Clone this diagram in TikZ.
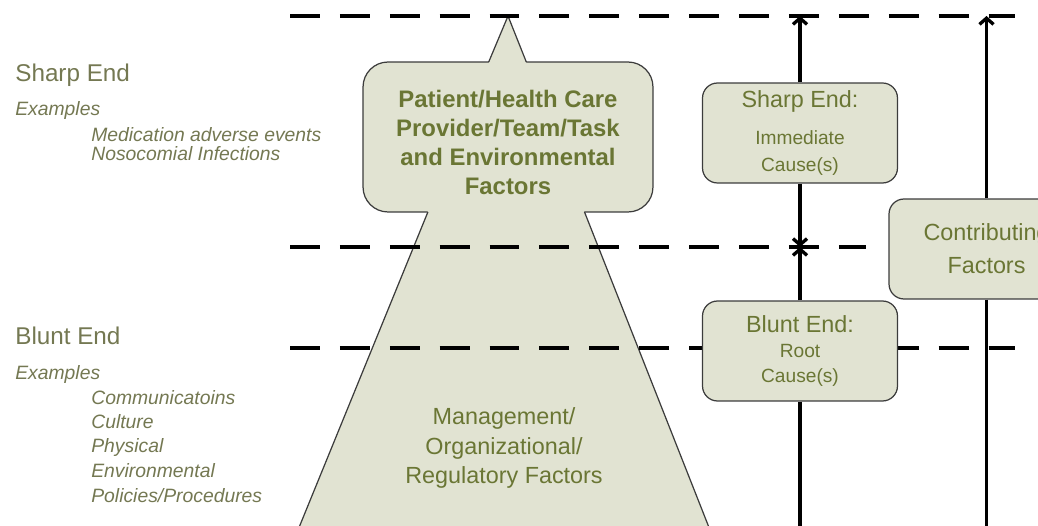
\documentclass[tikz,border=0pt]{standalone}
\usepackage{fontspec}
\setmainfont{Liberation Sans}
\usetikzlibrary{arrows.meta}
\usetikzlibrary{positioning}
\definecolor{factorfill}{RGB}{225,227,210}
\definecolor{olivetext}{RGB}{106,118,52}
\definecolor{greytext}{RGB}{116,120,82}
\definecolor{edgegrey}{RGB}{60,60,60}
\tikzset{level/.style = {dash pattern=on 17pt off 11.4pt, line width=2.2pt}}
\tikzset{cause/.style = {draw=edgegrey, line width=0.7pt, fill=factorfill,
                         rounded corners=0.3cm, minimum width=3.9cm,
                         minimum height=2cm, align=center, text=olivetext}}
\tikzset{flow/.style = {line width=1.9pt, -{Straight Barb[length=3.5pt,width=8pt]}}}
\tikzset{side/.style = {anchor=base west, text=greytext, inner sep=0}}
\tikzset{edge/.style = {draw=edgegrey, line width=0.7pt}}

\begin{document}
\begin{tikzpicture}[x=0.02cm, y=-0.02cm]
      \clip (0, 0) rectangle (1038, 526);
      % callout box with the pyramid round it
      \node [edge, fill=factorfill, rounded corners=0.5cm, minimum width=5.8cm,
             minimum height=3cm] (care) at (508, 137) {};
      \fill [factorfill] (508, 16) -- (488.3, 64) -- (526.7, 64) -- cycle;
      \fill [factorfill] (428.3, 210) -- (298, 530) -- (710, 530) -- (583.7, 210) -- cycle;
      \draw [edge] (488.7, 62) -- (508, 16) -- (526.3, 62);
      \draw [edge] (427.9, 212) -- (298, 530);
      \draw [edge] (584.5, 212) -- (710, 530);
      \node [text=olivetext, align=center, font=\fontsize{13.6}{16.5}\selectfont\bfseries] (caretext) at (508, 142)
            {Patient/Health Care\\Provider/Team/Task\\and Environmental\\Factors};
      \node [text=olivetext, align=center, font=\fontsize{13.3}{17}\selectfont] (mgmt) at (504, 448)
            {Management/\\Organizational/\\Regulatory Factors};
      % level lines
      \draw [level] (290, 16) -- (1015, 16);
      \draw [level] (290, 247) -- (866, 247);
      \draw [level] (290, 348) -- (1015, 348);
      % side labels
      \node [side, font=\fontsize{13.8}{16}\selectfont] (sharplabel) at (15, 82) {Sharp End};
      \node [side, font=\fontsize{11}{13}\selectfont\itshape] (sharpex) at (15, 116) {Examples};
      \node [side, font=\fontsize{11}{13}\selectfont\itshape] (sharpa) at (91, 142) {Medication adverse events};
      \node [side, font=\fontsize{11}{13}\selectfont\itshape] (sharpb) at (91, 161) {Nosocomial Infections};
      \node [side, font=\fontsize{13.8}{16}\selectfont] (bluntlabel) at (15, 345) {Blunt End};
      \node [side, font=\fontsize{11}{13}\selectfont\itshape] (bluntex) at (15, 380) {Examples};
      \node [side, font=\fontsize{11}{13}\selectfont\itshape] (blunta) at (91, 405) {Communicatoins};
      \node [side, font=\fontsize{11}{13}\selectfont\itshape] (bluntb) at (91, 429) {Culture};
      \node [side, font=\fontsize{11}{13}\selectfont\itshape] (bluntc) at (91, 453) {Physical};
      \node [side, font=\fontsize{11}{13}\selectfont\itshape] (bluntd) at (91, 478) {Environmental};
      \node [side, font=\fontsize{11}{13}\selectfont\itshape] (blunte) at (91, 503) {Policies/Procedures};
      % cause boxes
      \node [cause, font=\fontsize{10.9}{15.4}\selectfont] (sharp) at (800, 133)
            {{\fontsize{13.3}{15.4}\selectfont Sharp End:}\\[6pt]Immediate\\Cause(s)};
      \node [cause, font=\fontsize{10.9}{14.2}\selectfont] (blunt) at (800, 351)
            {{\fontsize{13.3}{14.2}\selectfont Blunt End:}\\Root\\Cause(s)};
      \node [cause, font=\fontsize{13.3}{18.8}\selectfont] (contrib) at (986.5, 249)
            {Contributing\\Factors};
      \coordinate (sharptop) at (800, 16);
      \coordinate (split) at (800, 247);
      \coordinate (bluntfoot) at (800, 530);
      \coordinate (contribtop) at (986.5, 16);
      \coordinate (contribfoot) at (986.5, 530);
      \draw [flow] (sharp) -- (sharptop);
      \draw [flow] (sharp) -- (split);
      \draw [flow] (blunt) -- (split);
      \draw [line width=1.9pt] (blunt) -- (bluntfoot);
      \draw [flow] (contrib) -- (contribtop);
      \draw [line width=1.9pt] (contrib) -- (contribfoot);
\end{tikzpicture}
\end{document}
